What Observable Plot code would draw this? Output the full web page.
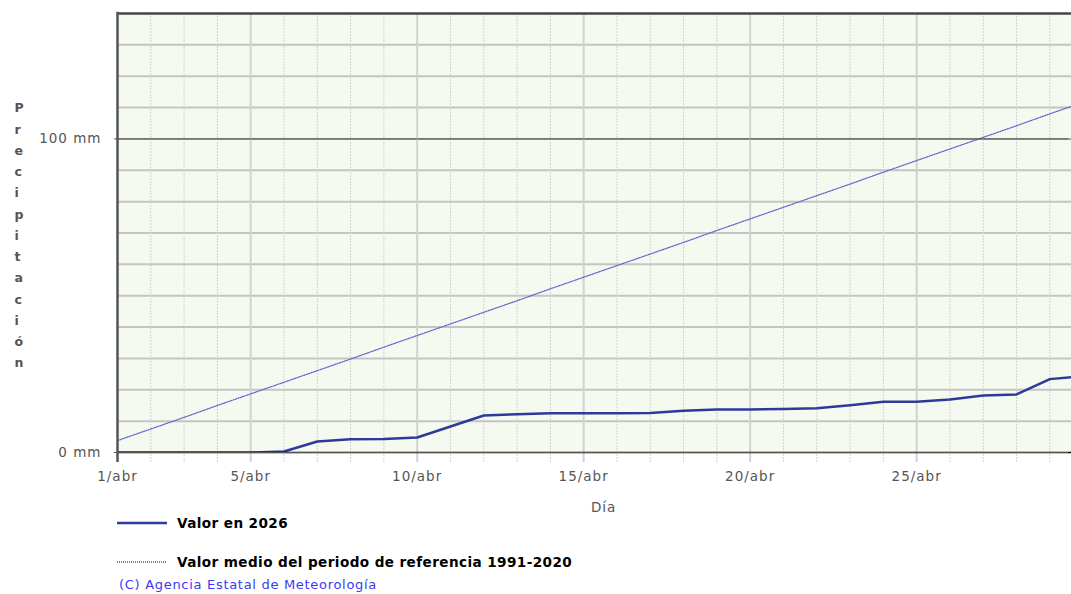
<!DOCTYPE html>
<html><head><meta charset="utf-8">
<script src="https://cdn.jsdelivr.net/npm/d3@7"></script>
<script src="https://cdn.jsdelivr.net/npm/@observablehq/plot@0.6"></script>
<style>
html,body{margin:0;padding:0;background:#fff;overflow:hidden;width:1071px;height:594px}
body{position:relative;font-family:"DejaVu Sans",Verdana,sans-serif}
#chart svg{display:block}
.leg{position:absolute;left:117px;display:flex;align-items:center;font-weight:bold;font-size:13.6px;color:#000;letter-spacing:0.4px}
.leg svg{margin-right:10px}
#credit{position:absolute;left:119px;top:577px;font-family:"DejaVu Sans",Verdana,sans-serif;font-size:13px;color:#3a3af0;letter-spacing:0.7px}
</style></head><body>
<div id="chart"></div>
<div class="leg" style="top:515px"><svg width="50" height="4"><line x1="0" x2="50" y1="2" y2="2" stroke="#2e3a9a" stroke-width="2.5"/></svg>Valor en 2026</div>
<div class="leg" style="top:554px"><svg width="50" height="4"><line x1="0" x2="50" y1="2" y2="2" stroke="#4a4ad0" stroke-width="1.5" stroke-dasharray="1,1"/></svg>Valor medio del periodo de referencia 1991-2020</div>
<div id="credit">(C) Agencia Estatal de Meteorología</div>
<script>
const days = d3.range(1, 31);
const valor2026 = [0.0,0.0,0.0,0.0,0.0,0.3,3.5,4.2,4.3,4.8,8.3,11.8,12.2,12.5,12.5,12.5,12.6,13.3,13.7,13.7,13.9,14.1,15.1,16.2,16.2,16.9,18.2,18.5,23.4,24.4];
const valorMedio = [3.8,7.5,11.2,15.0,18.7,22.4,26.1,29.8,33.6,37.3,41.0,44.7,48.4,52.2,55.9,59.6,63.3,67.0,70.8,74.5,78.2,81.9,85.6,89.4,93.1,96.8,100.5,104.2,108.0,111.7];
const xTicks = [1,5,10,15,20,25];
const xTickLabels = ["1/abr","5/abr","10/abr","15/abr","20/abr","25/abr"];
const yTicks = [0,100];
const yTickLabels = ["0 mm","100 mm"];
const yGrid = d3.range(10, 141, 10);
const yLabel = "Precipitación";

const actual = days.map((d,i)=>({day:d, v:valor2026[i]}));
const medio = days.map((d,i)=>({day:d, v:valorMedio[i]}));
const minorDays = days.filter(d => !xTicks.includes(d));
const majorDays = xTicks.filter(d => d !== 1);

const chart = Plot.plot({
  width: 1071, height: 515,
  marginLeft: 117, marginRight: 0, marginTop: 13, marginBottom: 63,
  x: {domain: [1, 29.65], axis: null},
  y: {domain: [0, 140], axis: null},
  style: {fontFamily: '"DejaVu Sans", Verdana, sans-serif', background: "#fff"},
  marks: [
    Plot.frame({fill: "#f5faf1", stroke: null}),
    // horizontal grid
    Plot.ruleY(yGrid.filter(v => v !== 100 && v !== 140), {stroke: "#c4c4c4", strokeWidth: 2}),
    Plot.ruleY([100], {stroke: "#8a8a8a", strokeWidth: 1.5}),
    // vertical grid
    Plot.ruleX(minorDays, {y1: -3.2, y2: 140, stroke: "#d2d2d2", strokeWidth: 1, strokeDasharray: "2,1"}),
    Plot.ruleX(majorDays, {y1: -3.2, y2: 140, stroke: "#d2d2d2", strokeWidth: 2}),
    // lines
    Plot.line(medio, {x: "day", y: "v", stroke: "#6464c8", strokeWidth: 1.3, strokeDasharray: "1.2,1.3", clip: true}),
    Plot.line(actual, {x: "day", y: "v", stroke: "#2e3a9a", strokeWidth: 2.5, clip: true}),
    // axes lines
    Plot.ruleY([0], {stroke: "#000", strokeWidth: 1.5}),
    Plot.ruleY([140], {stroke: "#444", strokeWidth: 2.5}),
    Plot.ruleX([1], {y1: -3.2, y2: 140.4, stroke: "#555", strokeWidth: 2.5}),
    // y ticks
    Plot.tickY(yTicks, {frameAnchor: "left", stroke: "#555", strokeWidth: 1, dx: -3}),
    Plot.text(yTicks, {y: d => d, text: (d,i) => yTickLabels[i], frameAnchor: "left", textAnchor: "end", dx: -16, fill: "#555", fontSize: 13.5}),
    // x tick labels
    Plot.text(xTicks, {x: d => d, text: (d,i) => xTickLabels[i], frameAnchor: "bottom", dy: 28, fill: "#555", fontSize: 13.5}),
    Plot.text(["Día"], {frameAnchor: "bottom", x: 15.6, dy: 59, fill: "#555", fontSize: 13.5}),
    // y label
    Plot.text([yLabel.split("").join("\n")], {frameAnchor: "left", dx: -103, lineHeight: 1.7, fill: "#555", fontWeight: "bold", fontSize: 12.5})
  ]
});
chart.querySelectorAll("text").forEach(t => t.style.letterSpacing = "1px");
document.getElementById("chart").appendChild(chart);
</script>
</body></html>
